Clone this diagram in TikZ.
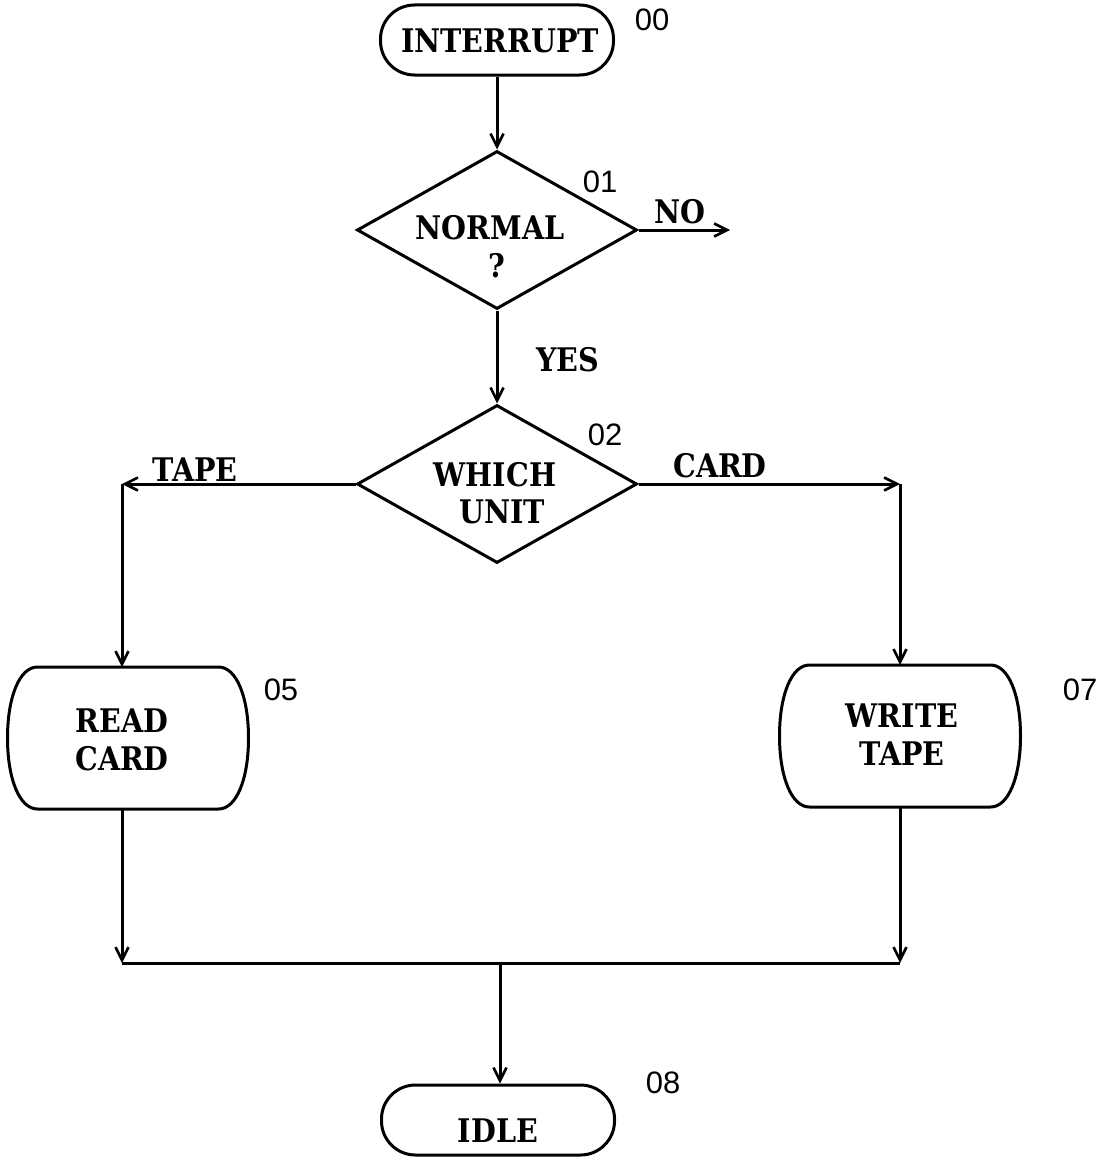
\documentclass[tikz,border=0pt]{standalone}
\usepackage{fontspec}
\setsansfont{Liberation Sans}
\newfontfamily\tw{DejaVu Serif}[FakeStretch=0.88]
\usetikzlibrary{shapes.geometric,arrows.meta,calc}
\begin{document}
\begin{tikzpicture}[x=1pt,y=-1pt,
  line width=3pt,
  txt/.style={font=\tw\bfseries\fontsize{32.5}{38}\selectfont, inner sep=0pt, align=center},
  num/.style={font=\sffamily\fontsize{31}{34}\selectfont, inner sep=0pt},
  term/.style={draw, rectangle, rounded corners=34pt, minimum width=233pt, minimum height=70pt, inner sep=0pt},
  dec/.style={draw, diamond, minimum width=280pt, minimum height=158pt, inner sep=0pt},
  procbox/.style={rectangle, minimum width=238pt, minimum height=139pt, inner sep=0pt},
  arr/.style={-{Straight Barb[length=13pt,width=13pt,line width=2.6pt]}}
]
\newcommand\drawbarrel[1]{%
  \draw ($(#1.north west)+(30,0)$) -- ($(#1.north east)+(-30,0)$)
   .. controls ($(#1.north east)+(-12,0)$) and ($(#1.north east)+(0,30)$) .. (#1.east)
   .. controls ($(#1.south east)+(0,-30)$) and ($(#1.south east)+(-12,0)$) .. ($(#1.south east)+(-30,0)$)
   -- ($(#1.south west)+(30,0)$)
   .. controls ($(#1.south west)+(12,0)$) and ($(#1.south west)+(0,-30)$) .. (#1.west)
   .. controls ($(#1.north west)+(0,30)$) and ($(#1.north west)+(12,0)$) .. cycle;}
\useasboundingbox (0,0) rectangle (1097,1164);
\fill[white] (0,0) rectangle (1097,1164);

% nodes
\node[term] (int) at (497,40) {};
\node[txt] (intT) at (500,41) {INTERRUPT};
\node[num] (l00) at (652,20) {00};

\node[dec] (d01) at (497,230) {};
\node[txt] (d01a) at (490,228) {NORMAL};
\node[txt] (d01b) at (497,266) {?};
\node[num] (l01) at (600,182) {01};
\coordinate (noend) at (730,230);
\node[txt] (no) at (680,212) {NO};
\node[txt] (yes) at (568,360) {YES};

\node[dec] (d02) at (497,484) {};
\node[txt] (d02a) at (495,475) {WHICH};
\node[txt] (d02b) at (502,512) {UNIT};
\node[num] (l02) at (605,435) {02};

\coordinate (tl) at (122,484);
\coordinate (tr) at (900,484);
\node[txt] (tape) at (195,470) {TAPE};
\node[txt] (card) at (720,466) {CARD};

\node[procbox] (p05) at (128,738) {};
\drawbarrel{p05}
\node[txt] (p05t) at (122,740) {READ\\CARD};
\node[num] (l05) at (281,690) {05};

\node[procbox] (p07) at (900,736) {};
\drawbarrel{p07}
\node[txt] (p07t) at (902,735) {WRITE\\TAPE};
\node[num] (l07) at (1080,690) {07};

\coordinate (bl) at (122,963);
\coordinate (br) at (900,963);
\coordinate (bm) at (500,963);

\node[term] (idle) at (498,1120) {};
\node[txt] (idleT) at (498,1131) {IDLE};
\node[num] (l08) at (663,1083) {08};

% connectors
\draw[arr] (int.south) -- (d01.north);
\draw[arr] (d01.east) -- (noend);
\draw[arr] (d01.south) -- (d02.north);
\draw[arr] (d02.west) -- (tl);
\draw[arr] (tl) -- (tl |- p05.north);
\draw[arr] (d02.east) -- (tr);
\draw[arr] (tr) -- (p07.north);
\draw[arr] (bl |- p05.south) -- (bl);
\draw[arr] (p07.south) -- (br);
\draw (bl) -- (br);
\draw[arr] (bm) -- (bm |- idle.north);
\end{tikzpicture}
\end{document}
